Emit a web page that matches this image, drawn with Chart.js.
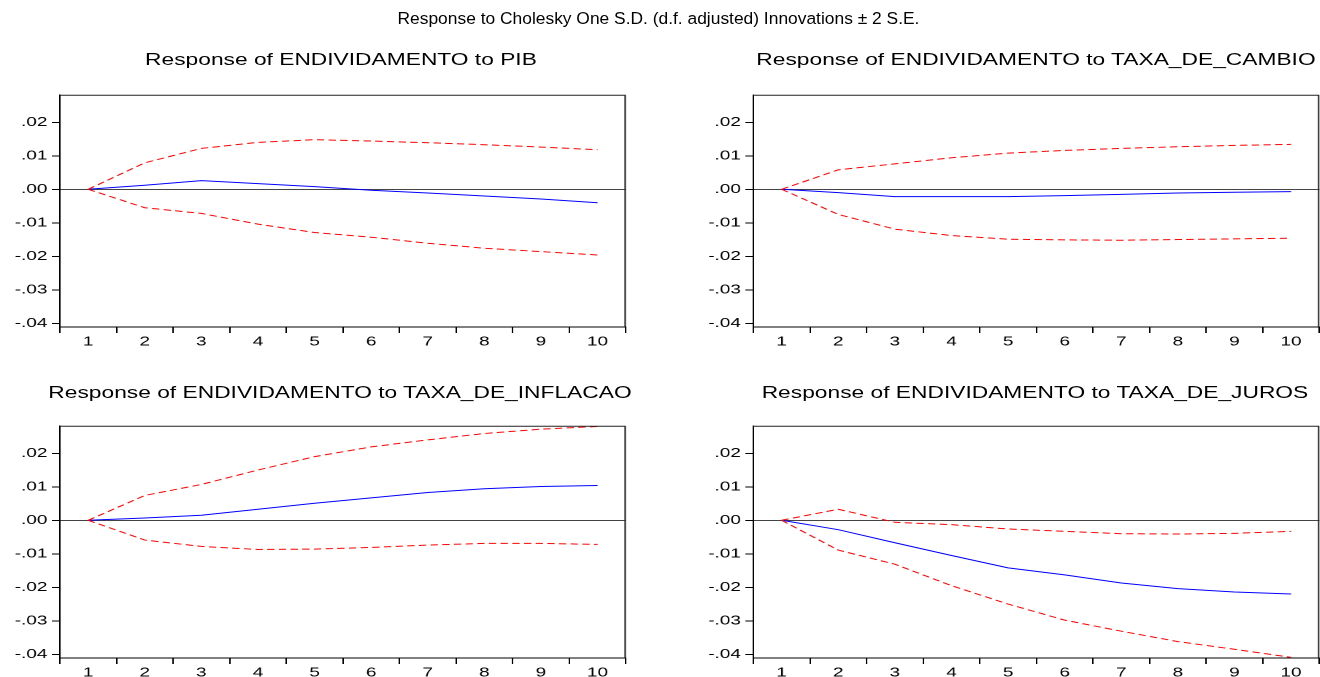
<!DOCTYPE html>
<html>
<head>
<meta charset="utf-8">
<script src="https://cdn.jsdelivr.net/npm/chart.js@4.4.0/dist/chart.umd.min.js"></script>
<style>
  html, body { margin: 0; padding: 0; background: #fff; width: 1320px; height: 677px; overflow: hidden; }
  #page { position: absolute; left: 0; top: 0; height: 677px; transform-origin: 0 0; font-family: "Liberation Sans", Arial, sans-serif; color: #000; }
  .title { position: absolute; white-space: nowrap; }
  canvas { position: absolute; }
</style>
</head>
<body>
<div id="page">
  <div class="title" id="mainTitle">Response to Cholesky One S.D. (d.f. adjusted) Innovations ± 2 S.E.</div>
  <div class="title" id="t1">Response of ENDIVIDAMENTO to PIB</div>
  <div class="title" id="t2">Response of ENDIVIDAMENTO to TAXA_DE_CAMBIO</div>
  <div class="title" id="t3">Response of ENDIVIDAMENTO to TAXA_DE_INFLACAO</div>
  <div class="title" id="t4">Response of ENDIVIDAMENTO to TAXA_DE_JUROS</div>
  <canvas id="c1"></canvas>
  <canvas id="c2"></canvas>
  <canvas id="c3"></canvas>
  <canvas id="c4"></canvas>
</div>
<script>
const periods = ["1", "2", "3", "4", "5", "6", "7", "8", "9", "10"];
const yTicks = [-0.04, -0.03, -0.02, -0.01, 0, 0.01, 0.02];
const yMin = -0.0411;
const yMax = 0.0282;

// response of ENDIVIDAMENTO to PIB
const pibResp = [0, 0.0012, 0.0026, 0.0017, 0.0008, -0.0003, -0.0011, -0.0020, -0.0029, -0.0040];
const pibUpper = [0, 0.0079, 0.0122, 0.0140, 0.0148, 0.0144, 0.0139, 0.0133, 0.0126, 0.0118];
const pibLower = [0, -0.0055, -0.0072, -0.0104, -0.0129, -0.0143, -0.0161, -0.0176, -0.0186, -0.0196];

// response to TAXA_DE_CAMBIO
const cambioResp = [0, -0.0010, -0.0022, -0.0022, -0.0022, -0.0019, -0.0015, -0.0011, -0.0009, -0.0007];
const cambioUpper = [0, 0.0058, 0.0076, 0.0094, 0.0108, 0.0116, 0.0122, 0.0127, 0.0131, 0.0134];
const cambioLower = [0, -0.0075, -0.0119, -0.0138, -0.0149, -0.0151, -0.0152, -0.0150, -0.0148, -0.0146];

// response to TAXA_DE_INFLACAO
const inflacaoResp = [0, 0.0007, 0.0015, 0.0033, 0.0051, 0.0067, 0.0083, 0.0094, 0.0101, 0.0104];
const inflacaoUpper = [0, 0.0074, 0.0107, 0.0150, 0.0190, 0.0219, 0.0240, 0.0259, 0.0272, 0.0280];
const inflacaoLower = [0, -0.0059, -0.0078, -0.0087, -0.0086, -0.0081, -0.0074, -0.0069, -0.0069, -0.0072];

// response to TAXA_DE_JUROS
const jurosResp = [0, -0.0028, -0.0067, -0.0105, -0.0142, -0.0163, -0.0187, -0.0204, -0.0214, -0.0220];
const jurosUpper = [0, 0.0033, -0.0006, -0.0013, -0.0026, -0.0033, -0.0040, -0.0041, -0.0039, -0.0033];
const jurosLower = [0, -0.0089, -0.0131, -0.0195, -0.0250, -0.0298, -0.0331, -0.0362, -0.0385, -0.0409];

// the original graph is stretched sideways, so lay out narrow and scale x
const S = 1.46;
const FONT = "'Liberation Sans', Arial, sans-serif";
const Y_W = 40;
const X_H = 30;

const page = document.getElementById("page");
page.style.width = (1320 / S) + "px";
page.style.transform = "scaleX(" + S + ")";

function placeTitle(id, cx, cy, size, squeeze) {
  const el = document.getElementById(id);
  el.style.left = (cx / S) + "px";
  el.style.top = cy + "px";
  el.style.fontSize = size + "px";
  // main title is not stretched in the original
  el.style.transform = "translate(-50%, -50%)" + (squeeze ? " scaleX(" + (1 / S) + ")" : "");
}
placeTitle("mainTitle", 658, 18, 17.4, true);
placeTitle("t1", 341, 60, 15.6, false);
placeTitle("t2", 1036, 60, 15.6, false);
placeTitle("t3", 340, 393, 15.6, false);
placeTitle("t4", 1035, 393, 15.6, false);

function fmt(v) {
  const s = Math.abs(v).toFixed(2).replace(/^0/, "");
  return (v < -1e-9 ? "-" : "") + s;
}

const frame = {
  id: "frame",
  afterDraw(chart) {
    const { ctx, chartArea: a } = chart;
    ctx.save();
    ctx.strokeStyle = "#222";
    ctx.lineWidth = 1;
    ctx.beginPath();
    ctx.moveTo(a.left, a.top + 0.5);
    ctx.lineTo(a.right - 0.5, a.top + 0.5);
    ctx.lineTo(a.right - 0.5, a.bottom);
    ctx.stroke();
    ctx.restore();
  }
};

function makeChart(id, plotLeft, plotTop, resp, upper, lower) {
  const plotW = 566 / S;
  const plotH = 233;
  const canvas = document.getElementById(id);
  const left = plotLeft / S - Y_W;
  const width = Math.ceil(Y_W + plotW + 6);
  canvas.style.left = left + "px";
  canvas.style.top = (plotTop - 10) + "px";
  canvas.width = width;
  canvas.height = 10 + plotH + X_H;
  canvas.style.width = width + "px";
  canvas.style.height = canvas.height + "px";

  const dashed = (data) => ({
    data: data,
    borderColor: "#ff0000",
    borderWidth: 1,
    borderDash: [5, 3],
    pointRadius: 0,
    tension: 0,
    fill: false
  });

  return new Chart(canvas, {
    type: "line",
    data: {
      labels: periods,
      datasets: [
        dashed(upper),
        dashed(lower),
        {
          data: resp,
          borderColor: "#0000ff",
          borderWidth: 1,
          pointRadius: 0,
          tension: 0,
          fill: false
        }
      ]
    },
    options: {
      responsive: false,
      animation: false,
      devicePixelRatio: 2,
      layout: { padding: { left: 0, right: width - Y_W - plotW, top: 10, bottom: 0 } },
      plugins: {
        legend: { display: false },
        tooltip: { enabled: false },
        title: { display: false }
      },
      scales: {
        x: {
          offset: true,
          grid: {
            offset: true,
            drawOnChartArea: false,
            tickLength: 6,
            tickColor: "#000",
            lineWidth: 1
          },
          border: { color: "#000", width: 1 },
          ticks: {
            color: "#000",
            font: { family: FONT, size: 13 },
            padding: 1,
            maxRotation: 0,
            autoSkip: false
          },
          afterFit: (scale) => { scale.height = X_H; }
        },
        y: {
          min: yMin,
          max: yMax,
          afterBuildTicks: (scale) => { scale.ticks = yTicks.map((v) => ({ value: v })); },
          grid: {
            color: (c) => (c.tick && Math.abs(c.tick.value) < 1e-9 ? "#444" : "rgba(0,0,0,0)"),
            tickColor: "#000",
            tickLength: 5.5,
            lineWidth: 1
          },
          border: { color: "#000", width: 1 },
          ticks: {
            color: "#000",
            font: { family: FONT, size: 13 },
            padding: 3,
            callback: (v) => fmt(v)
          },
          afterFit: (scale) => { scale.width = Y_W; }
        }
      }
    },
    plugins: [frame]
  });
}

makeChart("c1", 60, 94, pibResp, pibUpper, pibLower);
makeChart("c2", 754, 94, cambioResp, cambioUpper, cambioLower);
makeChart("c3", 60, 425, inflacaoResp, inflacaoUpper, inflacaoLower);
makeChart("c4", 754, 425, jurosResp, jurosUpper, jurosLower);
</script>
</body>
</html>
